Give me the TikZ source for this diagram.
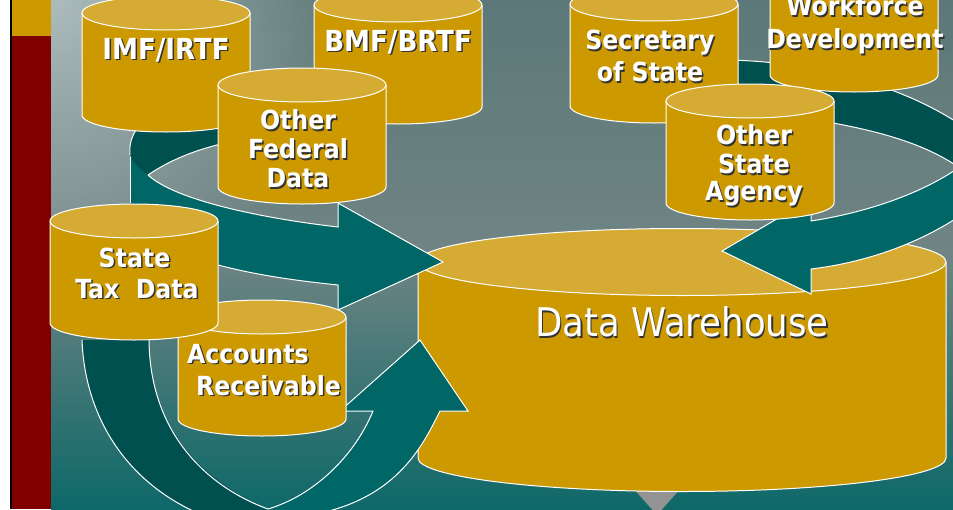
\documentclass[tikz,border=0pt]{standalone}
\usepackage{fontspec}
\setmainfont{DejaVu Sans Condensed}
\usetikzlibrary{calc,fadings}
\definecolor{goldbody}{RGB}{204,153,0}
\definecolor{goldtop}{RGB}{214,171,51}
\definecolor{tealfront}{RGB}{0,102,102}
\definecolor{tealback}{RGB}{0,80,80}
\definecolor{darkred}{RGB}{128,0,0}
\definecolor{bgtop}{RGB}{92,120,120}
\definecolor{bgmid}{RGB}{112,132,132}
\definecolor{bgbottom}{RGB}{14,104,104}
\tikzfading[name=cornerglow, inner color=transparent!50, outer color=transparent!100]
\tikzset{
  drumbox/.style={rectangle, inner sep=0pt, outer sep=0pt},
  drumface/.style={draw=white, line width=1pt},
  cyltext/.style={text=white, font=\bfseries\fontsize{26.3}{29}\selectfont, inner sep=0pt},
  band/.style={draw=white, line width=1pt}
}
% name, centre, half width, height, lid radius
\newcommand{\drum}[5]{%
  \node[drumbox, minimum width=2*#3 pt, minimum height=#4 pt] (#1) at (#2) {};
  \path[drumface, fill=goldbody] ($(#1.north west)+(0,#5)$) -- ($(#1.south west)+(0,-#5)$)
    arc[start angle=180, end angle=0, x radius=#3, y radius=#5] -- ($(#1.north east)+(0,#5)$);
  \path[drumface, fill=goldtop] ($(#1.north)+(0,#5)$) ellipse[x radius=#3, y radius=#5];}
\newcommand{\shadowlabel}[3][center]{%
  \node[cyltext, text=black!80, align=#1] at ($(#2)+(1.5,1.5)$) {#3};
  \node[cyltext, align=#1] at (#2) {#3};}
\newcommand{\widecaps}{\fontsize{29}{29}\selectfont}
\begin{document}
\begin{tikzpicture}[x=1pt, y=-1pt]
  \useasboundingbox (0,0) rectangle (953,509);
  \clip (0,0) rectangle (953,509);
  % slide background
  \fill[white] (0,0) rectangle (10,509);
  \fill[black] (10,0) rectangle (12,509);
  \fill[darkred] (12,0) rectangle (51,509);
  \fill[goldbody] (12,0) rectangle (51,36);
  \shade[top color=bgtop, bottom color=bgbottom, middle color=bgmid] (51,0) rectangle (953,509);
  \begin{scope}
    \clip (51,0) rectangle (953,509);
    \fill[white, path fading=cornerglow] (51,0) circle (300);
  \end{scope}
  % warehouse
  \fill[gray!85] (633,488) -- (681,488) -- (657,515) -- cycle;
  \drum{warehouse}{682,360}{264}{263}{33.5}
  % arrow from the top left
  \path[fill=tealfront] (130,140) -- (130,203) -- (218,265) .. controls (260,276) and (300,281) .. (338,285)
    -- (338,310) -- (443,262) -- (338,203) -- (338,227) .. controls (260,218) and (175,200) .. (148,175)
    .. controls (138,165) and (130,155) .. (130,140) -- cycle;
  \draw[band] (130,203) -- (130,150);
  \draw[band] (218,265) .. controls (260,276) and (300,281) .. (338,285) -- (338,310) -- (443,262) -- (338,203)
    -- (338,227) .. controls (260,218) and (175,200) .. (148,175);
  \fill[tealback] (148,175) .. controls (170,160) and (195,150) .. (225,143) -- (225,110) -- (136,130)
    .. controls (131,138) and (128,150) .. (130,155) .. controls (133,163) and (140,169) .. (148,175) -- cycle;
  \draw[band] (148,175) .. controls (170,160) and (195,150) .. (225,143);
  \draw[band] (136,130) .. controls (131,138) and (129,146) .. (130,155);
  \drum{imf}{166,64}{84}{136}{17}
  \drum{bmf}{398,56}{84}{136}{17}
  \drum{federal}{302,136}{84}{136}{17}
  % arrow from the right
  \path[fill=tealback, draw=white, line width=1pt] (720,60) .. controls (810,60) and (910,85) .. (975,135)
    -- (975,180) .. controls (930,140) and (860,122) .. (720,108) -- cycle;
  \path[fill=tealfront] (975,155) .. controls (935,190) and (870,212) .. (811,221) -- (811,199) -- (722,251)
    -- (811,294) -- (811,269) .. controls (870,262) and (930,240) .. (975,205) -- cycle;
  \draw[band] (975,155) .. controls (935,190) and (870,212) .. (811,221) -- (811,199) -- (722,251)
    -- (811,294) -- (811,269) .. controls (870,262) and (930,240) .. (975,205);
  \drum{secretary}{654,55}{84}{136}{17}
  \drum{workforce}{854,24}{84}{136}{17}
  \drum{agency}{750,152}{84}{136}{17}
  % arrow from the bottom
  \path[fill=tealback] (82,340) .. controls (85,420) and (130,490) .. (215,520) -- (290,520)
    .. controls (215,490) and (150,440) .. (149,340) -- cycle;
  \draw[band] (82,340) .. controls (85,420) and (130,490) .. (215,520);
  \draw[band] (149,340) .. controls (150,440) and (215,490) .. (268,509);
  \path[fill=tealfront] (268,509) .. controls (315,495) and (355,455) .. (373,411) -- (340,411) -- (420,340)
    -- (468,411) -- (440,411) .. controls (425,440) and (400,500) .. (310,515) -- (268,515) -- cycle;
  \draw[band] (268,509) .. controls (315,495) and (355,455) .. (373,411) -- (340,411) -- (420,340)
    -- (468,411) -- (440,411) .. controls (425,440) and (400,500) .. (310,515);
  \drum{accounts}{262,368}{84}{136}{17}
  \drum{statetax}{134,272}{84}{136}{17}
  % labels
  \shadowlabel{166,50}{\widecaps IMF/IRTF}
  \shadowlabel{398,42}{\widecaps BMF/BRTF}
  \shadowlabel{298,149}{Other\\Federal\\Data}
  \shadowlabel{650,56}{Secretary\\[3pt]of State}
  \shadowlabel{855,25}{Workforce\\[4pt]Development}
  \shadowlabel{754,165.5}{Other\\State\\[-2pt]Agency}
  \shadowlabel{137,273}{\hspace*{-5pt}State\\[2pt]Tax~~Data}
  \shadowlabel[left]{264,370}{Accounts\\[3pt]\hspace*{9pt}Receivable}
  \node[text=black!80, font=\fontsize{39.5}{44}\selectfont, inner sep=0pt] at (683.5,323.5) {Data Warehouse};
  \node[text=white, font=\fontsize{39.5}{44}\selectfont, inner sep=0pt] (warehousetext) at (682,322) {Data Warehouse};
\end{tikzpicture}
\end{document}
